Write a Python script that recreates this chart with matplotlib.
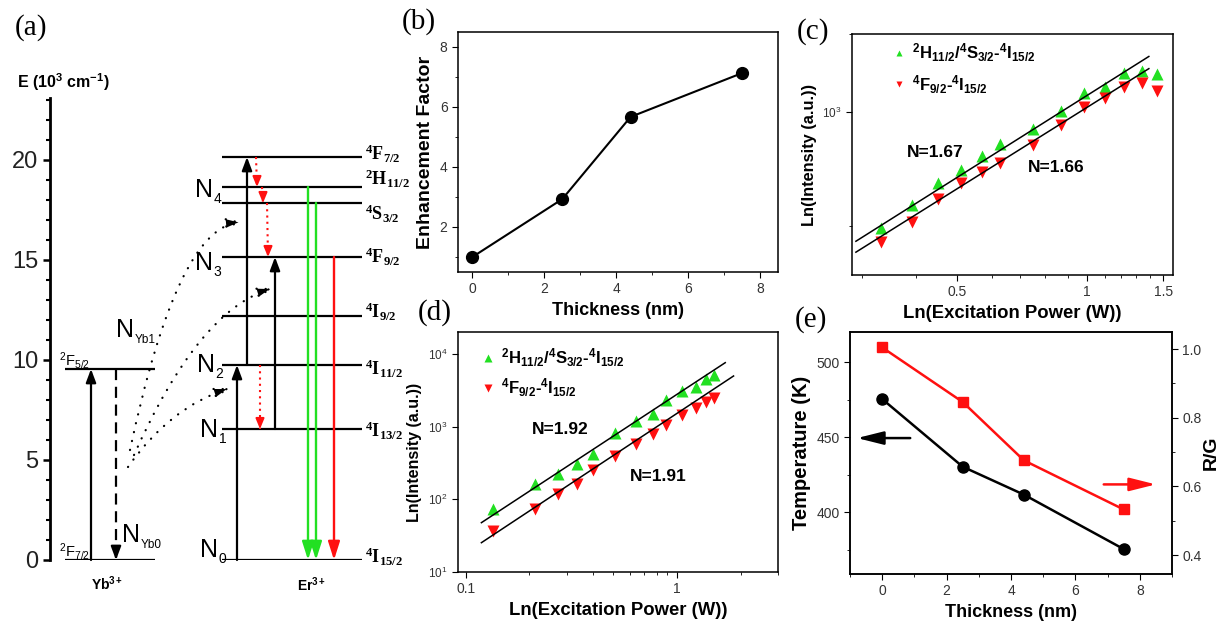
import matplotlib
matplotlib.use('Agg')
import matplotlib.pyplot as plt
from matplotlib.ticker import MultipleLocator, FixedLocator, NullFormatter, StrMethodFormatter, NullLocator

# ---------------- data ----------------
# (a) energy levels (10^3 cm^-1)
yb_levels = [0.0, 9.55]
yb_names = [r'${}^{2}$F$_{7/2}$', r'${}^{2}$F$_{5/2}$']
er_levels = [0.0, 6.55, 9.75, 12.2, 15.15, 17.85, 18.65, 20.15]
er_names = [r'$\mathcal{{}^{4}I_{15/2}}$', r'$\mathcal{{}^{4}I_{13/2}}$', r'$\mathcal{{}^{4}I_{11/2}}$',
            r'$\mathcal{{}^{4}I_{9/2}}$', r'$\mathcal{{}^{4}F_{9/2}}$', r'$\mathcal{{}^{4}S_{3/2}}$',
            r'$\mathcal{{}^{2}H_{11/2}}$', r'$\mathcal{{}^{4}F_{7/2}}$']
er_name_shift = [-0.15, -0.4, -0.5, -0.1, -0.3, -0.85, 0.1, -0.15]

# (b)
thick = [0, 2.5, 4.4, 7.5]
enhance = [1.0, 2.93, 5.67, 7.13]

# (c)
power_c = [0.333, 0.393, 0.451, 0.511, 0.569, 0.628, 0.750, 0.870, 0.984, 1.097, 1.215, 1.34, 1.452]
green_c = [193, 270, 365, 439, 536, 631, 785, 1014, 1298, 1423, 1730, 1771, 1700]
red_c = [160, 210, 293, 365, 429, 484, 625, 834, 1077, 1221, 1423, 1505, 1346]
fit_c_x = [0.291, 1.389]
fit_c_green = [161, 2185]
fit_c_red = [138, 1840]

# (d)
power_d = [0.135, 0.212, 0.274, 0.335, 0.398, 0.508, 0.639, 0.767, 0.887, 1.05, 1.23, 1.37, 1.49]
green_d = [73, 161, 221, 309, 416, 824, 1194, 1476, 2323, 3090, 3505, 4476, 5128]
red_d = [37, 73, 117, 164, 251, 394, 582, 783, 1052, 1445, 1786, 2203, 2500]
fit_d_x = [0.1187, 1.689]
fit_d_green = [47.7, 7570]
fit_d_x2 = [0.1187, 1.849]
fit_d_red = [25.3, 4966]

# (e)
thick_e = [0, 2.5, 4.4, 7.5]
temp = [475.3, 430.2, 411.6, 375.3]
rg = [1.005, 0.846, 0.676, 0.533]

GREEN = '#22e022'
RED = '#ff1010'
LBL_G = r'$\mathbf{{}^{2}H_{11/2}/{}^{4}S_{3/2}}$-$\mathbf{{}^{4}I_{15/2}}$'
LBL_R = r'$\mathbf{{}^{4}F_{9/2}}$-$\mathbf{{}^{4}I_{15/2}}$'

plt.rcParams.update({
    'font.family': 'Liberation Sans',
    'mathtext.fontset': 'custom',
    'mathtext.rm': 'Liberation Sans',
    'mathtext.it': 'Liberation Sans:italic',
    'mathtext.bf': 'Liberation Sans:bold',
    'mathtext.cal': 'Liberation Serif:bold',
    'xtick.direction': 'out', 'ytick.direction': 'out',
    'axes.linewidth': 1.0,
    'xtick.major.size': 4, 'ytick.major.size': 4,
    'xtick.minor.size': 2.5, 'ytick.minor.size': 2.5,
    'xtick.labelsize': 10, 'ytick.labelsize': 10,
    'xtick.labelcolor': '#333333', 'ytick.labelcolor': '#333333',
    'axes.labelsize': 13, 'axes.labelweight': 'bold',
})

W, H = 1219, 621
fig = plt.figure(figsize=(W / 100, H / 100), dpi=100)


def px_axes(l, t, r, b):
    return fig.add_axes([l / W, 1 - b / H, (r - l) / W, (b - t) / H])


def arrow(ax, x0, y0, x1, y1, color='k', lw=1.6, hw=0.3, hl=0.8, ls='-', conn='arc3,rad=0'):
    ax.annotate('', xy=(x1, y1), xytext=(x0, y0),
                arrowprops=dict(arrowstyle=f'-|>,head_width={hw},head_length={hl}',
                                color=color, lw=lw, ls=ls, shrinkA=0, shrinkB=0,
                                connectionstyle=conn, capstyle='round'),
                annotation_clip=False)


def broken_arrow(ax, x0, y0, x1, y1, color, ls, lw=1.6, hw=0.3, hl=0.8, head=0.6):
    ax.plot([x0, x1], [y0, y1], color=color, ls=ls, lw=lw, clip_on=False)
    sgn = 1 if y1 < y0 else -1
    arrow(ax, x1, y1 + sgn * head, x1, y1, color=color, lw=lw, hw=hw, hl=hl)


def n_label(ax, x, e, sub, subsize=10):
    ax.text(x, e, 'N', fontsize=18, va='baseline')
    ax.text(x + 18.5, e - 0.3, sub, fontsize=subsize, va='baseline')


# ---------------- (a) energy diagram ----------------
ax = px_axes(50, 98, 400, 560)
ax.set_xlim(50, 400)
ax.set_ylim(0, 23.1)
for s in ['top', 'right', 'bottom']:
    ax.spines[s].set_visible(False)
ax.spines['left'].set_linewidth(2.0)
ax.tick_params(axis='x', bottom=False, labelbottom=False)
ax.yaxis.set_major_locator(MultipleLocator(5))
ax.yaxis.set_minor_locator(MultipleLocator(1))
ax.tick_params(axis='y', which='major', length=5, width=1.8, labelsize=17, labelcolor='#222222')
ax.tick_params(axis='y', which='minor', length=3, width=1.5)

ax.hlines(yb_levels, 65, 155, color='k', lw=1.6)
ax.hlines(er_levels, 222, 362, color='k', lw=1.6)
for e, name in zip(yb_levels, yb_names):
    ax.text(59, e + 0.15, name, fontsize=10.5, ha='left', va='baseline')
for e, name, d in zip(er_levels, er_names, er_name_shift):
    ax.text(365, e + d, name, fontsize=13, ha='left', va='baseline')

# excitation
arrow(ax, 91, yb_levels[0], 91, yb_levels[1])
broken_arrow(ax, 116, yb_levels[1], 116, yb_levels[0], 'k', (0, (5, 3)))
arrow(ax, 237, er_levels[0], 237, er_levels[2])
arrow(ax, 247, er_levels[2], 247, er_levels[7])
arrow(ax, 275, er_levels[1], 275, er_levels[4])
# non-radiative relaxation
dots = (0, (1, 2))
broken_arrow(ax, 260, er_levels[2], 260, er_levels[1], RED, dots, lw=1.5, hw=0.25, hl=0.6, head=0.5)
broken_arrow(ax, 256, er_levels[7], 257, er_levels[6], RED, dots, lw=1.5, hw=0.25, hl=0.6, head=0.5)
broken_arrow(ax, 262, er_levels[6], 263, er_levels[5], RED, dots, lw=1.5, hw=0.25, hl=0.6, head=0.4)
broken_arrow(ax, 267, er_levels[5], 268, er_levels[4], RED, dots, lw=1.5, hw=0.25, hl=0.6, head=0.5)
# emission
arrow(ax, 308, er_levels[6], 308, er_levels[0], color=GREEN, lw=1.7, hw=0.35, hl=1.1)
arrow(ax, 316, er_levels[5], 316, er_levels[0], color=GREEN, lw=1.7, hw=0.35, hl=1.1)
arrow(ax, 334, er_levels[4], 334, er_levels[0], color=RED, lw=1.7, hw=0.35, hl=1.1)
# energy transfer Yb -> Er
et = (0, (0.1, 4))
arrow(ax, 130, 5.5, 242, 16.9, lw=1.6, ls=et, hw=0.3, hl=0.9, conn='angle3,angleA=78,angleB=5')
arrow(ax, 134, 5.25, 273, 13.6, lw=1.6, ls=et, hw=0.3, hl=0.9, conn='angle3,angleA=66,angleB=17')
arrow(ax, 128, 4.65, 230, 8.6, lw=1.6, ls=et, hw=0.3, hl=0.9, conn='angle3,angleA=55,angleB=18')

n_label(ax, 116, 11.15, 'Yb1', 8.5)
n_label(ax, 122, 0.9, 'Yb0', 8.5)
n_label(ax, 195, 18.15, '4')
n_label(ax, 195, 14.5, '3')
n_label(ax, 197, 9.4, '2')
n_label(ax, 200, 6.15, '1')
n_label(ax, 200, 0.15, '0')
ax.text(107, -1.2, r'Yb$^{\mathbf{3+}}$', fontsize=10, fontweight='bold', ha='center', va='center', clip_on=False)
ax.text(312, -1.25, r'Er$^{\mathbf{3+}}$', fontsize=10, fontweight='bold', ha='center', va='center', clip_on=False)
fig.text(17 / W, 1 - 82 / H, r'E (10$^{\mathbf{3}}$ cm$^{\mathbf{-1}}$)', fontsize=11.5, fontweight='bold', va='center')


def style_ax(a):
    for s in a.spines.values():
        s.set_linewidth(1.1)


# ---------------- (b) ----------------
axb = px_axes(458, 32, 778, 272)
style_ax(axb)
axb.plot(thick, enhance, 'o-', color='k', ms=8.5, lw=1.5)
axb.set_xlim(-0.4, 8.5)
axb.set_ylim(0.5, 8.5)
axb.xaxis.set_major_locator(MultipleLocator(2))
axb.xaxis.set_minor_locator(MultipleLocator(1))
axb.yaxis.set_major_locator(MultipleLocator(2))
axb.yaxis.set_minor_locator(MultipleLocator(1))
axb.set_xlabel('Thickness (nm)')
axb.set_ylabel('Enhancement Factor', fontsize=14)

# ---------------- (c) ----------------
axc = px_axes(852, 34, 1173, 275)
style_ax(axc)
axc.set_xscale('log')
axc.set_yscale('log')
hg, = axc.plot(power_c, green_c, '^', color=GREEN, ms=8, mec='none', label=LBL_G)
hr, = axc.plot(power_c, red_c, 'v', color=RED, ms=8, mec='none', label=LBL_R)
axc.plot(fit_c_x, fit_c_green, 'k-', lw=1.1)
axc.plot(fit_c_x, fit_c_red, 'k-', lw=1.1)
axc.set_xlim(0.285, 1.58)
axc.set_ylim(100, 3000)
axc.xaxis.set_major_locator(FixedLocator([0.5, 1, 1.5]))
axc.xaxis.set_major_formatter(StrMethodFormatter('{x:g}'))
axc.xaxis.set_minor_locator(FixedLocator([0.3, 0.4, 0.6, 0.7, 0.8, 0.9, 1.1, 1.2, 1.3, 1.4]))
axc.xaxis.set_minor_formatter(NullFormatter())
axc.yaxis.set_major_locator(FixedLocator([1000]))
axc.yaxis.set_minor_locator(FixedLocator([200, 3000]))
axc.yaxis.set_minor_formatter(NullFormatter())
axc.tick_params(axis='y', labelsize=8.5)
axc.set_xlabel('Ln(Excitation Power (W))', fontsize=13.3)
axc.set_ylabel('Ln(Intensity (a.u.))', fontsize=11.8)
axc.legend(handles=[hg, hr], loc='upper left', bbox_to_anchor=(0.125, 0.97), frameon=False,
           markerscale=0.6, handlelength=0.8, handletextpad=0.4, labelspacing=0.55,
           borderpad=0, borderaxespad=0, prop={'size': 12, 'weight': 'bold'})
axc.text(0.171, 0.51, 'N=1.67', transform=axc.transAxes, fontsize=12.5, fontweight='bold', va='center')
axc.text(0.548, 0.448, 'N=1.66', transform=axc.transAxes, fontsize=12.5, fontweight='bold', va='center')

# ---------------- (d) ----------------
axd = px_axes(458, 332, 778, 572)
style_ax(axd)
axd.set_xscale('log')
axd.set_yscale('log')
hg, = axd.plot(power_d, green_d, '^', color=GREEN, ms=8.5, mec='none', label=LBL_G)
hr, = axd.plot(power_d, red_d, 'v', color=RED, ms=8.5, mec='none', label=LBL_R)
axd.plot(fit_d_x, fit_d_green, 'k-', lw=1.1)
axd.plot(fit_d_x2, fit_d_red, 'k-', lw=1.1)
axd.set_xlim(0.092, 3.0)
axd.set_ylim(10, 2e4)
axd.xaxis.set_major_locator(FixedLocator([0.1, 1]))
axd.xaxis.set_major_formatter(StrMethodFormatter('{x:g}'))
axd.xaxis.set_minor_formatter(NullFormatter())
axd.yaxis.set_minor_locator(NullLocator())
axd.tick_params(axis='y', labelsize=8.5)
axd.set_xlabel('Ln(Excitation Power (W))', fontsize=13.3)
axd.set_ylabel('Ln(Intensity (a.u.))', fontsize=11.5)
axd.legend(handles=[hg, hr], loc='upper left', bbox_to_anchor=(0.073, 0.94), frameon=False,
           markerscale=0.6, handlelength=0.8, handletextpad=0.4, labelspacing=0.45,
           borderpad=0, borderaxespad=0, prop={'size': 12, 'weight': 'bold'})
axd.text(0.231, 0.592, 'N=1.92', transform=axd.transAxes, fontsize=12.5, fontweight='bold', va='center')
axd.text(0.5375, 0.396, 'N=1.91', transform=axd.transAxes, fontsize=12.5, fontweight='bold', va='center')

# ---------------- (e) ----------------
axe = px_axes(850, 332, 1172, 574)
style_ax(axe)
axe.plot(thick_e, temp, 'o-', color='k', ms=8, lw=1.8)
axe.set_xlim(-1, 9)
axe.set_ylim(358.7, 520)
axe.xaxis.set_major_locator(MultipleLocator(2))
axe.xaxis.set_minor_locator(MultipleLocator(1))
axe.yaxis.set_major_locator(MultipleLocator(50))
axe.yaxis.set_minor_locator(MultipleLocator(25))
axe.set_xlabel('Thickness (nm)')
axe.set_ylabel('Temperature (K)', fontsize=14.5)
axr = axe.twinx()
style_ax(axr)
axr.plot(thick_e, rg, 's-', color=RED, ms=7.5, lw=1.8)
axr.set_ylim(0.345, 1.05)
axr.yaxis.set_major_locator(MultipleLocator(0.2))
axr.yaxis.set_minor_locator(MultipleLocator(0.1))
axr.yaxis.set_major_formatter(StrMethodFormatter('{x:.1f}'))
axr.set_ylabel('R/G', fontsize=14, labelpad=1)
arrow(axe, 0.87, 449.3, -0.78, 449.3, lw=1.8, hw=0.4, hl=1.6)
arrow(axr, 6.88, 0.606, 8.5, 0.606, color=RED, lw=1.8, hw=0.4, hl=1.6)

# panel letters
for txt, x, y in [('(a)', 15, 28), ('(b)', 402, 22), ('(c)', 797, 32), ('(d)', 418, 313), ('(e)', 795, 320)]:
    fig.text(x / W, 1 - y / H, txt, family='Liberation Serif', fontsize=21, va='center', ha='left')

fig.savefig('out.png', dpi=100)
